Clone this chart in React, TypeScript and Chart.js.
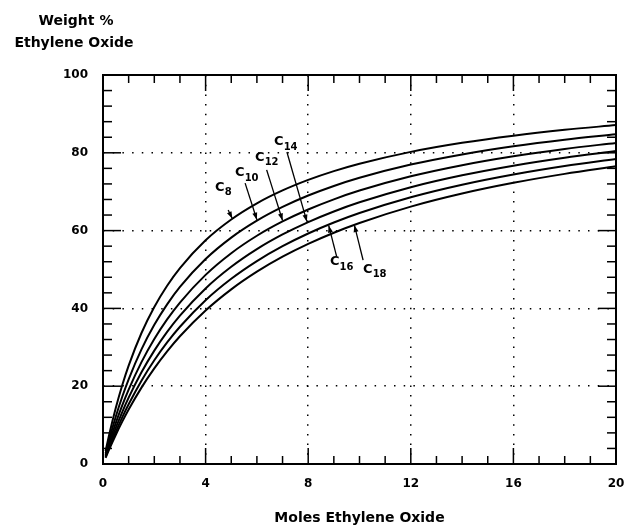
import React, { useEffect, useRef } from "react";
import { Chart, registerables } from "chart.js";

Chart.register(...registerables);

// Moles of ethylene oxide (x values)
const molesEO = [0.1, 0.25, 0.5, 0.75, 1, 1.5, 2, 2.5, 3, 4, 5, 6, 7, 8, 9, 10, 12, 14, 16, 18, 20];

// Weight % ethylene oxide for each alcohol chain length
const c8 = [3.27, 7.8, 14.47, 20.25, 25.29, 33.67, 40.37, 45.83, 50.38, 57.52, 62.86, 67.01, 70.32, 73.03, 75.29, 77.19, 80.24, 82.57, 84.41, 85.9, 87.13];
const c10 = [2.71, 6.51, 12.22, 17.28, 21.78, 29.46, 35.77, 41.04, 45.52, 52.69, 58.2, 62.56, 66.09, 69.02, 71.48, 73.58, 76.97, 79.59, 81.67, 83.37, 84.78];
const c12 = [2.31, 5.58, 10.58, 15.07, 19.13, 26.19, 32.12, 37.16, 41.51, 48.62, 54.19, 58.67, 62.35, 65.43, 68.04, 70.29, 73.95, 76.81, 79.1, 80.98, 82.55];
const c14 = [2.01, 4.89, 9.32, 13.36, 17.05, 23.57, 29.14, 33.95, 38.15, 45.13, 50.69, 55.23, 59.0, 62.19, 64.92, 67.28, 71.16, 74.22, 76.69, 78.73, 80.44];
const c16 = [1.79, 4.35, 8.33, 12.0, 15.38, 21.43, 26.67, 31.25, 35.29, 42.11, 47.62, 52.17, 56.0, 59.26, 62.07, 64.52, 68.57, 71.79, 74.42, 76.6, 78.43];
const c18 = [1.6, 3.91, 7.53, 10.89, 14.01, 19.64, 24.58, 28.95, 32.84, 39.46, 44.9, 49.44, 53.29, 56.59, 59.46, 61.97, 66.17, 69.53, 72.28, 74.58, 76.52];

const seriesNames = ["C8", "C10", "C12", "C14", "C16", "C18"];
const seriesValues = [c8, c10, c12, c14, c16, c18];

// Tick labels
const xTickValues = [0, 4, 8, 12, 16, 20];
const yTickValues = [0, 20, 40, 60, 80, 100];

// Callout labels (subscript text) with label anchor and arrow, in data units
const calloutSubs = ["8", "10", "12", "14", "16", "18"];
const calloutLabelAt = [
  [4.37, 71.0],
  [5.15, 74.8],
  [5.93, 78.7],
  [6.67, 82.8],
  [8.85, 51.9],
  [10.14, 49.9],
];
const calloutArrowFrom = [
  [4.88, 65.3],
  [5.54, 72.2],
  [6.38, 75.6],
  [7.17, 80.2],
  [9.11, 53.3],
  [10.14, 52.4],
];
const calloutArrowTo = [
  [5.04, 63.1],
  [6.0, 62.8],
  [7.0, 62.6],
  [7.95, 62.3],
  [8.8, 61.3],
  [9.8, 61.4],
];

const FONT = "'DejaVu Sans', 'Liberation Sans', sans-serif";

const decorPlugin = {
  id: "decor",
  afterDraw(chart: any) {
    const { ctx, chartArea: a, scales } = chart;
    const xs = scales.x;
    const ys = scales.y;
    ctx.save();
    ctx.strokeStyle = "#000";
    ctx.fillStyle = "#000";
    ctx.setLineDash([]);

    // frame
    ctx.lineWidth = 2;
    ctx.strokeRect(a.left, a.top, a.right - a.left, a.bottom - a.top);

    // inside ticks
    ctx.lineWidth = 1.5;
    const seg = (x1: number, y1: number, x2: number, y2: number) => {
      ctx.beginPath();
      ctx.moveTo(x1, y1);
      ctx.lineTo(x2, y2);
      ctx.stroke();
    };
    for (let v = 0; v <= 20; v += 1) {
      const px = xs.getPixelForValue(v);
      const len = v % 4 === 0 ? 16 : 8;
      seg(px, a.bottom, px, a.bottom - len);
      seg(px, a.top, px, a.top + len);
    }
    for (let v = 0; v <= 100; v += 4) {
      const py = ys.getPixelForValue(v);
      const len = v % 20 === 0 ? 18 : 9;
      seg(a.left, py, a.left + len, py);
      seg(a.right, py, a.right - len, py);
    }

    // callouts
    ctx.lineWidth = 1.3;
    for (let i = 0; i < calloutSubs.length; i++) {
      const [fx, fy] = calloutArrowFrom[i];
      const [tx, ty] = calloutArrowTo[i];
      const x1 = xs.getPixelForValue(fx);
      const y1 = ys.getPixelForValue(fy);
      const x2 = xs.getPixelForValue(tx);
      const y2 = ys.getPixelForValue(ty);
      seg(x1, y1, x2, y2);
      const ang = Math.atan2(y2 - y1, x2 - x1);
      const hl = 7;
      const hw = 2.5;
      ctx.beginPath();
      ctx.moveTo(x2, y2);
      ctx.lineTo(x2 - hl * Math.cos(ang) + hw * Math.sin(ang), y2 - hl * Math.sin(ang) - hw * Math.cos(ang));
      ctx.lineTo(x2 - hl * Math.cos(ang) - hw * Math.sin(ang), y2 - hl * Math.sin(ang) + hw * Math.cos(ang));
      ctx.closePath();
      ctx.fill();

      const [lx, ly] = calloutLabelAt[i];
      const px = xs.getPixelForValue(lx);
      const py = ys.getPixelForValue(ly);
      ctx.textBaseline = "middle";
      ctx.textAlign = "left";
      ctx.font = `bold 13px ${FONT}`;
      ctx.fillText("C", px, py);
      const w = ctx.measureText("C").width;
      ctx.font = `bold 10px ${FONT}`;
      ctx.fillText(calloutSubs[i], px + w, py + 5);
    }

    // titles
    ctx.font = `bold 14px ${FONT}`;
    ctx.textAlign = "center";
    ctx.textBaseline = "middle";
    ctx.fillText("Weight %", 76, 21);
    ctx.fillText("Ethylene Oxide", 74, 43);
    ctx.fillText("Moles Ethylene Oxide", (a.left + a.right) / 2, 518);
    ctx.restore();
  },
};

export default function App() {
  const canvasRef = useRef<HTMLCanvasElement | null>(null);

  useEffect(() => {
    if (!canvasRef.current) return;
    const datasets = seriesValues.map((vals, i) => ({
      label: seriesNames[i],
      data: molesEO.map((m, j) => ({ x: m, y: vals[j] })),
      borderColor: "#000",
      backgroundColor: "#000",
      borderWidth: 2,
      pointRadius: 0,
      fill: false,
      cubicInterpolationMode: "monotone" as const,
    }));

    const chart = new Chart(canvasRef.current, {
      type: "line",
      data: { datasets },
      plugins: [decorPlugin],
      options: {
        animation: false,
        responsive: true,
        maintainAspectRatio: false,
        layout: { padding: { left: 0, right: 8, top: 75, bottom: 0 } },
        plugins: {
          legend: { display: false },
          tooltip: { enabled: false },
          title: { display: false },
        },
        scales: {
          x: {
            type: "linear",
            min: 0,
            max: 20,
            afterBuildTicks: (s: any) => {
              s.ticks = xTickValues.map((v) => ({ value: v }));
            },
            afterFit: (s: any) => {
              s.height = 61;
              s.paddingLeft = 0;
              s.paddingRight = 0;
            },
            ticks: {
              color: "#000",
              padding: 13,
              maxRotation: 0,
              autoSkip: false,
              font: { family: FONT, weight: "bold", size: 12 },
            },
            grid: {
              color: "#000",
              lineWidth: 1.5,
              drawTicks: false,
            },
            border: { display: false, dash: [1.5, 8.2] },
          },
          y: {
            type: "linear",
            min: 0,
            max: 100,
            afterBuildTicks: (s: any) => {
              s.ticks = yTickValues.map((v) => ({ value: v }));
            },
            afterFit: (s: any) => {
              s.width = 103;
              s.paddingTop = 0;
              s.paddingBottom = 0;
            },
            ticks: {
              color: "#000",
              padding: 15,
              autoSkip: false,
              font: { family: FONT, weight: "bold", size: 12 },
            },
            grid: {
              color: "#000",
              lineWidth: 1.5,
              drawTicks: false,
            },
            border: { display: false, dash: [1.5, 8.2] },
          },
        },
      },
    });
    return () => chart.destroy();
  }, []);

  return (
    <div style={{ position: "fixed", left: 0, top: 0, width: 624, height: 525, background: "#fff" }}>
      <canvas ref={canvasRef} />
    </div>
  );
}
